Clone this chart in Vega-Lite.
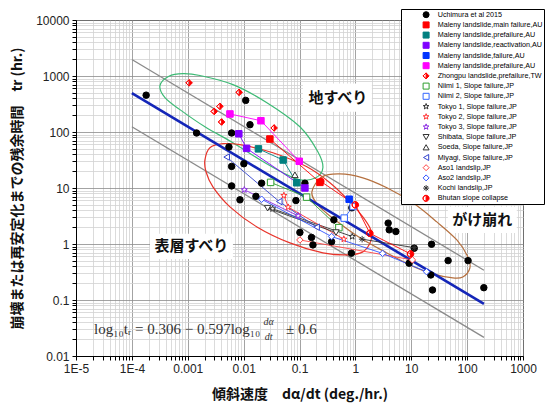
{
"$schema": "https://vega.github.io/schema/vega-lite/v6.json",
"width": 447, "height": 336,
"autosize": {"type": "none"},
"padding": {"left": 76, "top": 20, "right": 24, "bottom": 47},
"background": "white",
"config": {"view": {"stroke": "black", "strokeWidth": 1}, "font": "Liberation Sans"},
"datasets": {
"pts": [
{"series":"Uchimura et al 2015","x":1.8e-4,"y":455},
{"series":"Uchimura et al 2015","x":0.00144,"y":96},
{"series":"Uchimura et al 2015","x":0.0109,"y":367},
{"series":"Uchimura et al 2015","x":0.013,"y":135},
{"series":"Uchimura et al 2015","x":0.0061,"y":96},
{"series":"Uchimura et al 2015","x":0.00546,"y":54},
{"series":"Uchimura et al 2015","x":0.0061,"y":24.3},
{"series":"Uchimura et al 2015","x":0.0101,"y":27.1},
{"series":"Uchimura et al 2015","x":0.0061,"y":10.9},
{"series":"Uchimura et al 2015","x":0.021,"y":12.2},
{"series":"Uchimura et al 2015","x":0.0086,"y":6.15},
{"series":"Uchimura et al 2015","x":0.0166,"y":7.1},
{"series":"Uchimura et al 2015","x":0.0863,"y":5.97},
{"series":"Uchimura et al 2015","x":0.125,"y":12.2},
{"series":"Uchimura et al 2015","x":0.412,"y":2.7},
{"series":"Uchimura et al 2015","x":0.1016,"y":1.61},
{"series":"Uchimura et al 2015","x":0.164,"y":1.31},
{"series":"Uchimura et al 2015","x":0.174,"y":0.964},
{"series":"Uchimura et al 2015","x":0.375,"y":1.1},
{"series":"Uchimura et al 2015","x":0.849,"y":0.684},
{"series":"Uchimura et al 2015","x":0.865,"y":4.43},
{"series":"Uchimura et al 2015","x":3.86,"y":2.36},
{"series":"Uchimura et al 2015","x":4.03,"y":1.79},
{"series":"Uchimura et al 2015","x":5.3,"y":1.67},
{"series":"Uchimura et al 2015","x":11.3,"y":0.84},
{"series":"Uchimura et al 2015","x":9.16,"y":0.454},
{"series":"Uchimura et al 2015","x":23.1,"y":0.99},
{"series":"Uchimura et al 2015","x":45.7,"y":0.505},
{"series":"Uchimura et al 2015","x":104,"y":0.505},
{"series":"Uchimura et al 2015","x":22.4,"y":0.28},
{"series":"Uchimura et al 2015","x":24,"y":0.151},
{"series":"Uchimura et al 2015","x":199,"y":0.166},
{"series":"Maleny landslide,main failure,AU","x":0.0295,"y":75},
{"series":"Maleny landslide,main failure,AU","x":0.232,"y":12.6},
{"series":"Maleny landslide,prefailure,AU","x":0.0184,"y":50},
{"series":"Maleny landslide,prefailure,AU","x":0.051,"y":31.6},
{"series":"Maleny landslide,prefailure,AU","x":0.089,"y":12.4},
{"series":"Maleny landslide,reactivation,AU","x":0.0082,"y":93},
{"series":"Maleny landslide,reactivation,AU","x":0.0113,"y":51},
{"series":"Maleny landslide,reactivation,AU","x":0.125,"y":10},
{"series":"Maleny landslide,failure,AU","x":0.774,"y":6.3},
{"series":"Maleny landslide,prefailure,AU ","x":0.00569,"y":210},
{"series":"Maleny landslide,prefailure,AU ","x":0.0204,"y":159},
{"series":"Maleny landslide,prefailure,AU ","x":0.0989,"y":30},
{"series":"Zhongpu landslide,prefailure,TW","x":0.00106,"y":754},
{"series":"Zhongpu landslide,prefailure,TW","x":0.00834,"y":511},
{"series":"Zhongpu landslide,prefailure,TW","x":0.00377,"y":287},
{"series":"Zhongpu landslide,prefailure,TW","x":0.00298,"y":233},
{"series":"Zhongpu landslide,prefailure,TW","x":0.00404,"y":151},
{"series":"Zhongpu landslide,prefailure,TW","x":0.0352,"y":118},
{"series":"Niimi 1, Slope failure,JP","x":0.0304,"y":12.6},
{"series":"Niimi 1, Slope failure,JP","x":0.134,"y":6.87},
{"series":"Niimi 1, Slope failure,JP","x":0.507,"y":1.96},
{"series":"Niimi 2, Slope failure,JP","x":0.631,"y":2.9},
{"series":"Niimi 2, Slope failure,JP","x":0.912,"y":4.67},
{"series":"Tokyo 1, Slope failure,JP","x":0.033,"y":4.25},
{"series":"Tokyo 1, Slope failure,JP","x":0.877,"y":1.36},
{"series":"Tokyo 2, Slope failure,JP","x":0.0526,"y":7.35},
{"series":"Tokyo 2, Slope failure,JP","x":0.0628,"y":4.55},
{"series":"Tokyo 2, Slope failure,JP","x":0.622,"y":1.22},
{"series":"Tokyo 3, Slope failure,JP","x":0.0103,"y":9.3},
{"series":"Tokyo 3, Slope failure,JP","x":0.0948,"y":3.18},
{"series":"Shibata, Slope failure,JP","x":0.0269,"y":4.36},
{"series":"Shibata, Slope failure,JP","x":0.45,"y":1.6},
{"series":"Soeda, Slope failure,JP","x":0.0828,"y":17.2},
{"series":"Miyagi, Slope failure,JP","x":0.00497,"y":35.7},
{"series":"Miyagi, Slope failure,JP","x":0.0434,"y":5.73},
{"series":"Miyagi, Slope failure,JP","x":0.202,"y":2.0},
{"series":"Aso1 landslip,JP","x":0.1016,"y":1.18},
{"series":"Aso1 landslip,JP","x":10.5,"y":0.52},
{"series":"Aso2 landslip,JP","x":0.021,"y":6.3},
{"series":"Aso2 landslip,JP","x":0.375,"y":1.36},
{"series":"Aso2 landslip,JP","x":3.07,"y":0.68},
{"series":"Aso2 landslip,JP","x":18.8,"y":0.32},
{"series":"Kochi landslip,JP","x":1.32,"y":1.22},
{"series":"Kochi landslip,JP","x":11.3,"y":0.86},
{"series":"Bhutan slope collapse","x":0.241,"y":13.1},
{"series":"Bhutan slope collapse","x":1.0,"y":5.0},
{"series":"Bhutan slope collapse","x":1.82,"y":1.55},
{"series":"Bhutan slope collapse","x":9.73,"y":0.665}
],
"ell": [
{"e":"g","i":1,"x":3.18e-4,"y":673},{"e":"g","i":2,"x":4.6e-4,"y":990},{"e":"g","i":3,"x":8.2e-4,"y":1100},{"e":"g","i":4,"x":0.00165,"y":1020},{"e":"g","i":5,"x":0.00644,"y":702},{"e":"g","i":6,"x":0.0261,"y":334},{"e":"g","i":7,"x":0.1016,"y":124},{"e":"g","i":8,"x":0.213,"y":44.5},{"e":"g","i":9,"x":0.262,"y":23},{"e":"g","i":10,"x":0.196,"y":15.2},{"e":"g","i":11,"x":0.1016,"y":14.0},{"e":"g","i":12,"x":0.0505,"y":18.7},{"e":"g","i":13,"x":0.0196,"y":31.9},{"e":"g","i":14,"x":0.00644,"y":64.4},{"e":"g","i":15,"x":0.00203,"y":124},{"e":"g","i":16,"x":7.24e-4,"y":251},{"e":"g","i":17,"x":3.91e-4,"y":411},
{"e":"r","i":1,"x":0.00203,"y":31.9},{"e":"r","i":2,"x":0.00249,"y":52.4},{"e":"r","i":3,"x":0.00427,"y":61.8},{"e":"r","i":4,"x":0.00859,"y":59.3},{"e":"r","i":5,"x":0.0334,"y":42.7},{"e":"r","i":6,"x":0.1355,"y":23.9},{"e":"r","i":7,"x":0.35,"y":12.4},{"e":"r","i":8,"x":0.798,"y":5.66},{"e":"r","i":9,"x":1.36,"y":3.05},{"e":"r","i":10,"x":1.89,"y":1.79},{"e":"r","i":11,"x":1.89,"y":1.135},{"e":"r","i":12,"x":1.36,"y":0.723},{"e":"r","i":13,"x":0.705,"y":0.638},{"e":"r","i":14,"x":0.262,"y":0.693},{"e":"r","i":15,"x":0.0673,"y":1.047},{"e":"r","i":16,"x":0.0173,"y":2.02},{"e":"r","i":17,"x":0.00569,"y":4.61},{"e":"r","i":18,"x":0.00282,"y":10.5},{"e":"r","i":19,"x":0.00212,"y":19.5},
{"e":"b","i":1,"x":0.1667,"y":8.55},{"e":"b","i":2,"x":0.252,"y":15.8},{"e":"b","i":3,"x":0.528,"y":17.9},{"e":"b","i":4,"x":1.36,"y":15.2},{"e":"b","i":5,"x":3.66,"y":10.1},{"e":"b","i":6,"x":10.7,"y":5.43},{"e":"b","i":7,"x":28.7,"y":2.48},{"e":"b","i":8,"x":65.5,"y":1.18},{"e":"b","i":9,"x":103,"y":0.588},{"e":"b","i":10,"x":112,"y":0.373},{"e":"b","i":11,"x":83.7,"y":0.258},{"e":"b","i":12,"x":55.5,"y":0.248},{"e":"b","i":13,"x":24.3,"y":0.292},{"e":"b","i":14,"x":9.44,"y":0.423},{"e":"b","i":15,"x":3.66,"y":0.693},{"e":"b","i":16,"x":1.205,"y":1.29},{"e":"b","i":17,"x":0.43,"y":2.7},{"e":"b","i":18,"x":0.213,"y":5.02}
],
"fit": [
{"g":"fit","x":1e-4,"y":494.3},{"g":"fit","x":200,"y":0.0855},
{"g":"upper","x":1e-4,"y":1968},{"g":"upper","x":200,"y":0.3406},
{"g":"lower","x":1e-4,"y":124.2},{"g":"lower","x":200,"y":0.02149}
],
"boxes": [
{"x":0.115,"x2":1.97,"y":731,"y2":231},
{"x":45.2,"x2":774,"y":4.61,"y2":1.58},
{"x":2.11e-4,"x2":0.00644,"y":1.52,"y2":0.541}
],
"labels": [
{"t":"地すべり","x":0.486,"y":411},
{"t":"がけ崩れ","x":187,"y":2.7},
{"t":"表層すべり","x":0.00116,"y":0.906}
],
"eq": [
{"t":"log₁₀tᵣ = 0.306  − 0.597log₁₀","x":2.1e-5,"y":0.0303,"k":"main"},
{"t":"± 0.6","x":0.0571,"y":0.0303,"k":"main"},
{"t":"dα","x":0.028,"y":0.0412,"k":"frac"},
{"t":"dt","x":0.028,"y":0.0218,"k":"frac"}
]
},
"layer": [
{
"data": {"name": "boxes"},
"mark": {"type": "rect", "fill": "white", "stroke": null},
"encoding": {
"x": {"field": "x", "type": "quantitative", "scale": {"type": "log", "domain": [1e-5, 1000], "nice": false},
"axis": {
"title": "傾斜速度　dα/dt (deg./hr.)",
"values": [1e-5,2e-5,3e-5,4e-5,5e-5,6e-5,7e-5,8e-5,9e-5,1e-4,2e-4,3e-4,4e-4,5e-4,6e-4,7e-4,8e-4,9e-4,0.001,0.002,0.003,0.004,0.005,0.006,0.007,0.008,0.009,0.01,0.02,0.03,0.04,0.05,0.06,0.07,0.08,0.09,0.1,0.2,0.3,0.4,0.5,0.6,0.7,0.8,0.9,1,2,3,4,5,6,7,8,9,10,20,30,40,50,60,70,80,90,100,200,300,400,500,600,700,800,900,1000],
"labelExpr": "abs(log(datum.value)/LN10 - round(log(datum.value)/LN10)) < 0.001 ? (datum.value < 0.0005 ? '1E' + round(log(datum.value)/LN10) : format(datum.value, '~g')) : ''",
"labelOverlap": false, "labelFlush": false,
"grid": true,
"gridColor": {"condition": {"test": "abs(log(datum.value)/LN10 - round(log(datum.value)/LN10)) < 0.001", "value": "#8c8c8c"}, "value": "#d2d2d2"},
"gridWidth": 0.8,
"tickColor": "black", "tickSize": 4, "domainColor": "black",
"labelFontSize": 12, "labelColor": "#222", "labelPadding": 3,
"titleFont": "Noto Sans CJK JP", "titleFontSize": 14, "titleFontWeight": "bold", "titleColor": "#111", "titlePadding": 13
}},
"x2": {"field": "x2"},
"y": {"field": "y", "type": "quantitative", "scale": {"type": "log", "domain": [0.01, 10000], "nice": false},
"axis": {
"title": "崩壊または再安定化までの残余時間　tr (hr.)",
"values": [0.01,0.02,0.03,0.04,0.05,0.06,0.07,0.08,0.09,0.1,0.2,0.3,0.4,0.5,0.6,0.7,0.8,0.9,1,2,3,4,5,6,7,8,9,10,20,30,40,50,60,70,80,90,100,200,300,400,500,600,700,800,900,1000,2000,3000,4000,5000,6000,7000,8000,9000,10000],
"labelExpr": "abs(log(datum.value)/LN10 - round(log(datum.value)/LN10)) < 0.001 ? format(datum.value, '~g') : ''",
"labelOverlap": false, "labelFlush": false,
"grid": true,
"gridColor": {"condition": {"test": "abs(log(datum.value)/LN10 - round(log(datum.value)/LN10)) < 0.001", "value": "#8c8c8c"}, "value": "#d2d2d2"},
"gridWidth": 0.8,
"tickColor": "black", "tickSize": 4, "domainColor": "black",
"labelFontSize": 12, "labelColor": "#222", "labelPadding": 3,
"titleFont": "Noto Sans CJK JP", "titleFontSize": 14, "titleFontWeight": "bold", "titleColor": "#111", "titlePadding": 11
}},
"y2": {"field": "y2"}
}
},
{
"data": {"name": "fit"},
"transform": [{"filter": "datum.g != 'fit'"}],
"mark": {"type": "line", "color": "#8a8a8a", "strokeWidth": 1.3},
"encoding": {
"x": {"field": "x", "type": "quantitative", "scale": {"type": "log", "domain": [1e-5, 1000], "nice": false}},
"y": {"field": "y", "type": "quantitative", "scale": {"type": "log", "domain": [0.01, 10000], "nice": false}},
"detail": {"field": "g"}
}
},
{
"data": {"name": "ell"},
"transform": [{"filter": "datum.e == 'g'"}],
"mark": {"type": "line", "color": "#3dba75", "strokeWidth": 1.2, "interpolate": "cardinal-closed"},
"encoding": {
"x": {"field": "x", "type": "quantitative", "scale": {"type": "log", "domain": [1e-5, 1000], "nice": false}},
"y": {"field": "y", "type": "quantitative", "scale": {"type": "log", "domain": [0.01, 10000], "nice": false}},
"order": {"field": "i", "type": "quantitative"}
}
},
{
"data": {"name": "ell"},
"transform": [{"filter": "datum.e == 'r'"}],
"mark": {"type": "line", "color": "#e8332a", "strokeWidth": 1.2, "interpolate": "cardinal-closed"},
"encoding": {
"x": {"field": "x", "type": "quantitative", "scale": {"type": "log", "domain": [1e-5, 1000], "nice": false}},
"y": {"field": "y", "type": "quantitative", "scale": {"type": "log", "domain": [0.01, 10000], "nice": false}},
"order": {"field": "i", "type": "quantitative"}
}
},
{
"data": {"name": "ell"},
"transform": [{"filter": "datum.e == 'b'"}],
"mark": {"type": "line", "color": "#b5703f", "strokeWidth": 1.2, "interpolate": "cardinal-closed"},
"encoding": {
"x": {"field": "x", "type": "quantitative", "scale": {"type": "log", "domain": [1e-5, 1000], "nice": false}},
"y": {"field": "y", "type": "quantitative", "scale": {"type": "log", "domain": [0.01, 10000], "nice": false}},
"order": {"field": "i", "type": "quantitative"}
}
},
{
"data": {"name": "fit"},
"transform": [{"filter": "datum.g == 'fit'"}],
"mark": {"type": "line", "color": "#1426b8", "strokeWidth": 2.6},
"encoding": {
"x": {"field": "x", "type": "quantitative", "scale": {"type": "log", "domain": [1e-5, 1000], "nice": false}},
"y": {"field": "y", "type": "quantitative", "scale": {"type": "log", "domain": [0.01, 10000], "nice": false}}
}
},
{
"data": {"name": "pts"},
"transform": [{"filter": "datum.series != 'Uchimura et al 2015' && datum.series != 'Zhongpu landslide,prefailure,TW'"}],
"mark": {"type": "line", "strokeWidth": 0.9},
"encoding": {
"x": {"field": "x", "type": "quantitative", "scale": {"type": "log", "domain": [1e-5, 1000], "nice": false}},
"y": {"field": "y", "type": "quantitative", "scale": {"type": "log", "domain": [0.01, 10000], "nice": false}},
"color": {"field": "series", "type": "nominal", "legend": null,
"scale": {"domain": ["Maleny landslide,main failure,AU","Maleny landslide,prefailure,AU","Maleny landslide,reactivation,AU","Maleny landslide,failure,AU","Maleny landslide,prefailure,AU ","Niimi 1, Slope failure,JP","Niimi 2, Slope failure,JP","Tokyo 1, Slope failure,JP","Tokyo 2, Slope failure,JP","Tokyo 3, Slope failure,JP","Shibata, Slope failure,JP","Soeda, Slope failure,JP","Miyagi, Slope failure,JP","Aso1 landslip,JP","Aso2 landslip,JP","Kochi landslip,JP","Bhutan slope collapse"],
"range": ["#ff0000","#008080","#8000ff","#0033ff","#ff00ff","#2e9e2e","#3366ff","#333333","#ff3333","#8a2be2","#333333","#333333","#3344cc","#ff4444","#3355ff","#333333","#ff0000"]}}
}
},
{
"data": {"name": "pts"},
"mark": {"type": "point", "filled": true, "opacity": 1, "strokeWidth": 1, "size": 42},
"encoding": {
"x": {"field": "x", "type": "quantitative", "scale": {"type": "log", "domain": [1e-5, 1000], "nice": false}},
"y": {"field": "y", "type": "quantitative", "scale": {"type": "log", "domain": [0.01, 10000], "nice": false}},
"shape": {"field": "series", "type": "nominal",
"scale": {"domain": ["Uchimura et al 2015","Maleny landslide,main failure,AU","Maleny landslide,prefailure,AU","Maleny landslide,reactivation,AU","Maleny landslide,failure,AU","Maleny landslide,prefailure,AU ","Zhongpu landslide,prefailure,TW","Niimi 1, Slope failure,JP","Niimi 2, Slope failure,JP","Tokyo 1, Slope failure,JP","Tokyo 2, Slope failure,JP","Tokyo 3, Slope failure,JP","Shibata, Slope failure,JP","Soeda, Slope failure,JP","Miyagi, Slope failure,JP","Aso1 landslip,JP","Aso2 landslip,JP","Kochi landslip,JP","Bhutan slope collapse"],
"range": ["circle","square","square","square","square","square","M0,-1L1,0L0,1L-1,0ZM0,-1L-1,0L0,1Z","square","square","M0,-1L0.235,-0.324L0.951,-0.309L0.38,0.124L0.588,0.809L0,0.4L-0.588,0.809L-0.38,0.124L-0.951,-0.309L-0.235,-0.324Z","M0,-1L0.235,-0.324L0.951,-0.309L0.38,0.124L0.588,0.809L0,0.4L-0.588,0.809L-0.38,0.124L-0.951,-0.309L-0.235,-0.324Z","M0,-1L0.235,-0.324L0.951,-0.309L0.38,0.124L0.588,0.809L0,0.4L-0.588,0.809L-0.38,0.124L-0.951,-0.309L-0.235,-0.324Z","triangle-down","triangle-up","triangle-left","diamond","diamond","M-1,0L1,0M0,-1L0,1M-0.7,-0.7L0.7,0.7M-0.7,0.7L0.7,-0.7","M0,-1A1,1,0,1,1,0,1A1,1,0,1,1,0,-1ZM0,-1A1,1,0,0,0,0,1Z"]},
"legend": {"orient": "none", "legendX": 325, "legendY": -11, "title": null, "strokeColor": "black", "fillColor": "white", "padding": 1.5, "symbolSize": 36, "symbolStrokeWidth": 1, "labelFontSize": 7.2, "labelFont": "Liberation Sans", "labelColor": "black", "clipHeight": 8.4, "rowPadding": 1.2, "symbolOffset": 20, "labelOffset": 8, "labelLimit": 300}},
"stroke": {"field": "series", "type": "nominal",
"scale": {"domain": ["Uchimura et al 2015","Maleny landslide,main failure,AU","Maleny landslide,prefailure,AU","Maleny landslide,reactivation,AU","Maleny landslide,failure,AU","Maleny landslide,prefailure,AU ","Zhongpu landslide,prefailure,TW","Niimi 1, Slope failure,JP","Niimi 2, Slope failure,JP","Tokyo 1, Slope failure,JP","Tokyo 2, Slope failure,JP","Tokyo 3, Slope failure,JP","Shibata, Slope failure,JP","Soeda, Slope failure,JP","Miyagi, Slope failure,JP","Aso1 landslip,JP","Aso2 landslip,JP","Kochi landslip,JP","Bhutan slope collapse"],
"range": ["#000000","#ff0000","#008080","#8000ff","#0033ff","#ff00ff","#ff0000","#2e9e2e","#3366ff","#333333","#ff3333","#8a2be2","#333333","#333333","#3344cc","#ff4444","#3355ff","#333333","#ff0000"]}},
"fill": {"field": "series", "type": "nominal",
"scale": {"domain": ["Uchimura et al 2015","Maleny landslide,main failure,AU","Maleny landslide,prefailure,AU","Maleny landslide,reactivation,AU","Maleny landslide,failure,AU","Maleny landslide,prefailure,AU ","Zhongpu landslide,prefailure,TW","Niimi 1, Slope failure,JP","Niimi 2, Slope failure,JP","Tokyo 1, Slope failure,JP","Tokyo 2, Slope failure,JP","Tokyo 3, Slope failure,JP","Shibata, Slope failure,JP","Soeda, Slope failure,JP","Miyagi, Slope failure,JP","Aso1 landslip,JP","Aso2 landslip,JP","Kochi landslip,JP","Bhutan slope collapse"],
"range": ["#000000","#ff0000","#008080","#8000ff","#0033ff","#ff00ff","#ff0000","#ffffff","#ffffff","#ffffff","#ffffff","#ffffff","#ffffff","#ffffff","#ffffff","#ffffff","#ffffff","#ffffff","#ff0000"]}}
}
},
{
"data": {"name": "labels"},
"mark": {"type": "text", "font": "Noto Sans CJK JP", "fontWeight": "bold", "fontSize": 15, "color": "#111", "align": "center", "baseline": "middle"},
"encoding": {
"x": {"field": "x", "type": "quantitative", "scale": {"type": "log", "domain": [1e-5, 1000], "nice": false}},
"y": {"field": "y", "type": "quantitative", "scale": {"type": "log", "domain": [0.01, 10000], "nice": false}},
"text": {"field": "t"}
}
},
{
"data": {"name": "eq"},
"transform": [{"filter": "datum.k == 'main'"}],
"mark": {"type": "text", "font": "Liberation Serif", "fontSize": 15, "color": "#333", "align": "left", "baseline": "middle"},
"encoding": {
"x": {"field": "x", "type": "quantitative", "scale": {"type": "log", "domain": [1e-5, 1000], "nice": false}},
"y": {"field": "y", "type": "quantitative", "scale": {"type": "log", "domain": [0.01, 10000], "nice": false}},
"text": {"field": "t"}
}
},
{
"data": {"name": "eq"},
"transform": [{"filter": "datum.k == 'frac'"}],
"mark": {"type": "text", "font": "Liberation Serif", "fontSize": 10, "fontStyle": "italic", "color": "#333", "align": "center", "baseline": "middle"},
"encoding": {
"x": {"field": "x", "type": "quantitative", "scale": {"type": "log", "domain": [1e-5, 1000], "nice": false}},
"y": {"field": "y", "type": "quantitative", "scale": {"type": "log", "domain": [0.01, 10000], "nice": false}},
"text": {"field": "t"}
}
}
]
}
